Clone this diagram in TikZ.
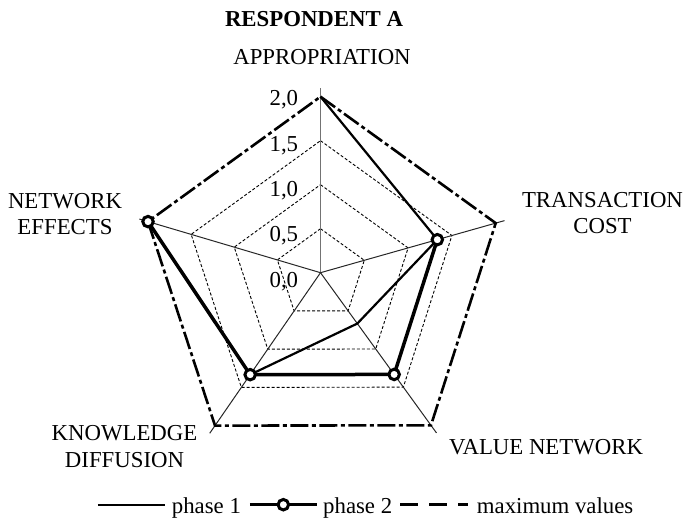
\documentclass[tikz,border=0pt]{standalone}
\usepackage{fontspec}
\setmainfont{Liberation Serif}
\usetikzlibrary{positioning,calc}

\begin{document}
\begin{tikzpicture}[
    x=1bp, y=1bp,
    font=\fontsize{22.8bp}{26.5bp}\selectfont,
    ax/.style={line width=1bp, black!85},
    grd/.style={line width=0.9bp, dash pattern=on 3bp off 2bp},
    mx/.style={line width=2.6bp, dash pattern=on 18bp off 3.5bp on 4bp off 3.5bp},
    ph1/.style={line width=2.2bp},
    ph2/.style={line width=3.5bp},
    mk/.style={circle, draw, line width=3bp, fill=white, inner sep=0pt, minimum size=10.5bp},
    lbl/.style={align=center, inner sep=0pt},
    leg/.style={anchor=base west, inner sep=0pt}
  ]
    \useasboundingbox (-320.5,-247.3) rectangle (365.5,272.7);
    \coordinate (o) at (0,0);
    \foreach \a/\r [count=\i] in {90/176, 15.8/182.1, -54.1/188.4, 235.4/185.8, 163.5/179.9} {
      \coordinate (a\i) at ({\a}:{\r});
      \coordinate (e\i) at ({\a}:{1.05*\r});
    }
    \foreach \f in {0.25,0.5,0.75}
      \draw[grd] ($(o)!\f!(a1)$) -- ($(o)!\f!(a2)$) -- ($(o)!\f!(a3)$) -- ($(o)!\f!(a4)$) -- ($(o)!\f!(a5)$) -- cycle;
    \draw[ax, black!55] (o) -- (e1);
    \foreach \i in {2,...,5}
      \draw[ax] (o) -- (e\i);
    \draw[mx] (a1) -- (a2) -- (a3) -- (a4) -- (a5) -- cycle;

    \coordinate (p2) at ($(o)!0.6667!(a2)$);
    \coordinate (p3) at ($(o)!0.6667!(a3)$);
    \coordinate (p4) at ($(o)!0.6667!(a4)$);
    \coordinate (p5) at (a5);
    \coordinate (v3) at ($(o)!0.3333!(a3)$);
    \draw[ph1] (a1) -- (p2) -- (v3) -- (p4);
    \draw[ph2] (p2) -- (p3) -- (p4) -- (p5);
    \foreach \i in {2,...,5}
      \node[mk] (m\i) at (p\i) {};

    \foreach \k/\t in {0/{0,0},1/{0,5},2/{1,0},3/{1,5},4/{2,0}}
      \node[anchor=base east, inner sep=0pt] (t\k) at (-22.2,{-14.6+45.4*\k}) {\t};

    \node[lbl, font=\fontsize{22.8bp}{26.5bp}\selectfont\bfseries] (ttl) at (-6.5,253.5) {RESPONDENT A};
    \node[lbl] (n1) at (1.5,215.7) {APPROPRIATION};
    \node[lbl] (n2) at (282,59.4) {TRANSACTION\\COST};
    \node[lbl] (n3) at (225.5,-174) {VALUE NETWORK};
    \node[lbl] (n4) at (-196,-174) {KNOWLEDGE\\DIFFUSION};
    \node[lbl] (n5) at (-255.5,58.5) {NETWORK\\EFFECTS};

    \node[leg] (l1) at (-148.8,-240.8) {phase 1};
    \node[leg] (l2) at (2.5,-240.8) {phase 2};
    \node[leg] (l3) at (156.2,-240.8) {maximum values};
    \coordinate (s1a) at (-222.5,-232);
    \coordinate (s1b) at (-155.5,-232);
    \coordinate (s2a) at (-70.5,-232);
    \coordinate (s2b) at (-3.8,-232);
    \coordinate (s3a) at (79.5,-232);
    \coordinate (s3b) at (147.5,-232);
    \draw[ph1] (s1a) -- (s1b);
    \draw[ph2] (s2a) -- (s2b);
    \node[mk] (lm) at ($(s2a)!0.5!(s2b)$) {};
    \draw[mx, dash pattern=on 18bp off 11bp] (s3a) -- (s3b);
\end{tikzpicture}
\end{document}
